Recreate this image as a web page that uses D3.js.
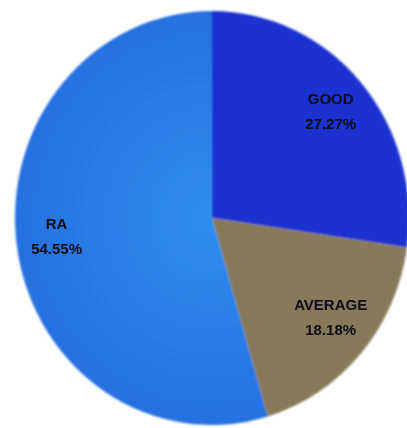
<!DOCTYPE html>
<html><head><meta charset="utf-8">
<script src="https://cdn.jsdelivr.net/npm/d3@7"></script>
<style>html,body{margin:0;padding:0;background:#fff;}svg{display:block;}</style>
</head><body>
<script>
const categories = ["GOOD", "AVERAGE", "RA"];
const values = [27.27, 18.18, 54.55];
const labels = ["27.27%", "18.18%", "54.55%"];
const colors = ["#1b32d0", "#877a5a", "#2a7ae4"];

const W = 407, H = 428;
const cx = 212, cy = 218, rx = 197, ry = 207;
const labelCy = 212, labelR = 157;

const svg = d3.select("body").append("svg").attr("width", W).attr("height", H);
const defs = svg.append("defs");
defs.append("filter").attr("id", "soft")
  .append("feGaussianBlur").attr("stdDeviation", 0.9);
defs.append("filter").attr("id", "softText")
  .append("feGaussianBlur").attr("stdDeviation", 0.5);
const grad = defs.append("radialGradient").attr("id", "raGrad")
  .attr("gradientUnits", "userSpaceOnUse").attr("cx", 0).attr("cy", 0).attr("r", rx);
grad.append("stop").attr("offset", "0%").attr("stop-color", "#2f8ff0");
grad.append("stop").attr("offset", "100%").attr("stop-color", "#2670e0");

const data = categories.map((c, i) => ({cat: c, value: values[i], label: labels[i], color: colors[i]}));
const pie = d3.pie().value(d => d.value).sort(null);
const arcs = pie(data);
const arc = d3.arc().innerRadius(0).outerRadius(rx);

const g = svg.append("g")
  .attr("transform", `translate(${cx},${cy}) scale(1,${ry / rx})`)
  .attr("filter", "url(#soft)");
g.selectAll("path").data(arcs).join("path")
  .attr("d", arc)
  .attr("fill", d => d.data.cat === "RA" ? "url(#raGrad)" : d.data.color);

const labelArc = d3.arc().innerRadius(labelR).outerRadius(labelR);
const lg = svg.append("g").attr("transform", `translate(${cx},${labelCy})`)
  .attr("filter", "url(#softText)");
const t = lg.selectAll("text").data(arcs).join("text")
  .attr("text-anchor", "middle")
  .attr("font-family", "'Liberation Sans Narrow', 'Liberation Sans', Arial, sans-serif")
  .attr("font-weight", "bold")
  .attr("font-size", 15)
  .attr("fill", "#0c0c18")
  .attr("transform", d => {
    const [x, y] = labelArc.centroid(d);
    return `translate(${x},${y})`;
  });
t.append("tspan").attr("x", 0).attr("y", -5).text(d => d.data.cat);
t.append("tspan").attr("x", 0).attr("y", 20).text(d => d.data.label);
</script>
</body></html>
